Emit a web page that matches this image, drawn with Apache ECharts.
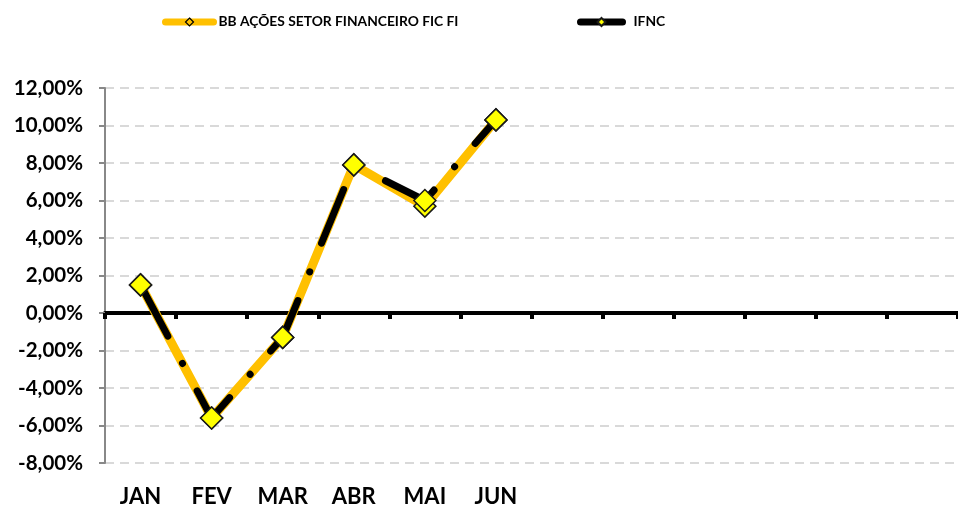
<!DOCTYPE html>
<html>
<head>
<meta charset="utf-8">
<script src="https://cdn.jsdelivr.net/npm/echarts@6/dist/echarts.min.js"></script>
<style>
  html, body { margin: 0; padding: 0; background: #fff; }
  #chart { width: 958px; height: 508px; }
</style>
</head>
<body>
<div id="chart"></div>
<script>
// months on the axis (only the first six carry data)
const months = ['JAN', 'FEV', 'MAR', 'ABR', 'MAI', 'JUN', '', '', '', '', '', '']
const fundName = 'BB AÇÕES SETOR FINANCEIRO FIC FI'
const indexName = 'IFNC'
const fundValues = [1.5, -5.6, -1.3, 7.9, 5.7, 10.3]
const indexValues = [1.5, -5.6, -1.3, 7.9, 6.0, 10.3]
const yMin = -8
const yMax = 12
const yStep = 2

const font = 'Lato, "Open Sans", sans-serif'

const chart = echarts.init(document.getElementById('chart'))

const diamond = {
  color: '#FFFF00',
  borderColor: '#1a1a1a',
  borderWidth: 1.5
}

chart.setOption({
  animation: false,
  textStyle: { fontFamily: font },
  grid: {
    left: 105,
    right: -2,
    top: 88,
    bottom: 45
  },
  legend: [{
    left: 162,
    top: 15,
    padding: 0,
    data: [fundName],
    itemWidth: 48,
    itemHeight: 10,
    lineStyle: { type: 'solid', width: 7, cap: 'round' },
    itemStyle: { color: '#FFC000', borderColor: '#000', borderWidth: 1.2 },
    textStyle: { fontFamily: font, fontWeight: 'bold', fontSize: 13.8, color: '#000' }
  }, {
    left: 577,
    top: 15,
    padding: 0,
    data: [indexName],
    itemWidth: 42,
    itemHeight: 10,
    lineStyle: { type: 'solid', width: 7, cap: 'round' },
    textStyle: { fontFamily: font, fontWeight: 'bold', fontSize: 13.8, color: '#000', padding: [0, 0, 0, 6] }
  }],
  xAxis: [{
    type: 'category',
    data: months,
    boundaryGap: true,
    axisLine: { show: false, onZero: false },
    axisTick: { show: false },
    axisLabel: {
      margin: 23,
      interval: 0,
      fontFamily: font,
      fontWeight: 'bold',
      fontSize: 22,
      color: '#000'
    },
    splitLine: { show: false }
  }, {
    type: 'category',
    data: months,
    boundaryGap: true,
    position: 'bottom',
    axisLine: { onZero: true, lineStyle: { color: '#000', width: 4 } },
    axisTick: { show: true, length: 6, lineStyle: { color: '#000', width: 4 } },
    axisLabel: { show: false },
    splitLine: { show: false }
  }],
  yAxis: {
    type: 'value',
    min: yMin,
    max: yMax,
    interval: yStep,
    axisLine: { show: true, lineStyle: { color: '#888', width: 2 } },
    axisTick: { show: true, length: 6, lineStyle: { color: '#888', width: 2 } },
    axisLabel: {
      margin: 22,
      fontFamily: font,
      fontWeight: 'bold',
      fontSize: 20.5,
      color: '#000',
      formatter: v => v.toFixed(2).replace('.', ',') + '%'
    },
    splitLine: {
      show: true,
      lineStyle: { color: '#d9d9d9', width: 2, type: [9, 6] }
    }
  },
  series: [{
    name: fundName,
    type: 'line',
    xAxisIndex: 0,
    data: fundValues,
    symbol: 'diamond',
    symbolSize: 22,
    itemStyle: diamond,
    lineStyle: { color: '#FFC000', width: 9, cap: 'round', join: 'round' },
    z: 2
  }, {
    name: indexName,
    type: 'line',
    xAxisIndex: 0,
    data: indexValues,
    symbol: 'diamond',
    symbolSize: 22,
    itemStyle: diamond,
    lineStyle: { color: '#000', width: 7, type: [58, 31, 0.1, 31], cap: 'round', join: 'round' },
    z: 3
  }]
})
</script>
</body>
</html>
